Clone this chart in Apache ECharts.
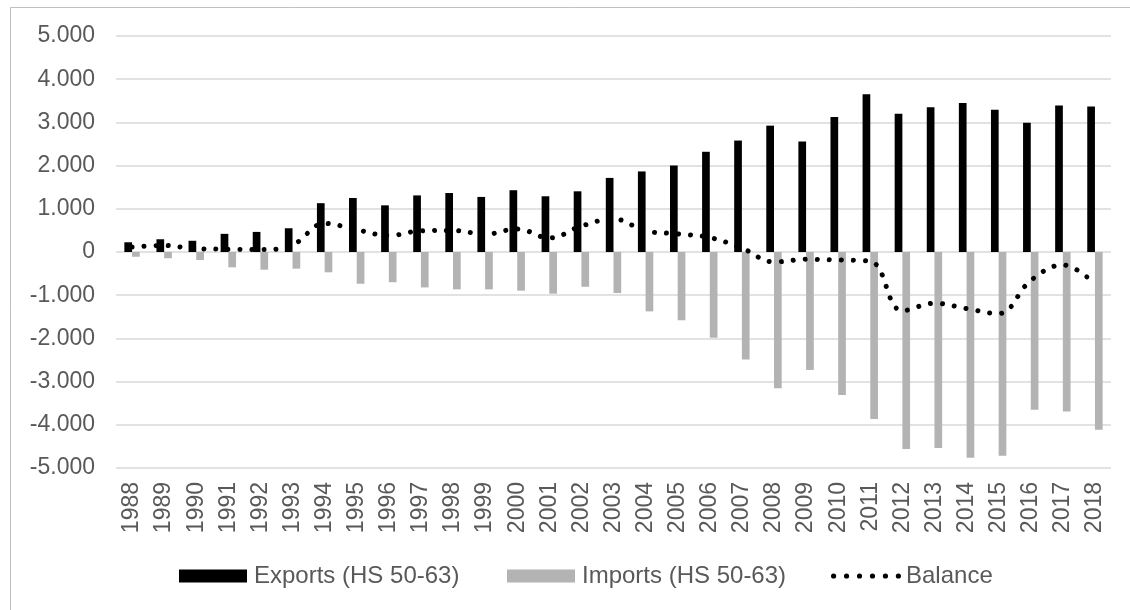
<!DOCTYPE html>
<html>
<head>
<meta charset="utf-8">
<script src="https://cdn.jsdelivr.net/npm/echarts@6/dist/echarts.min.js"></script>
<style>
html,body{margin:0;padding:0;background:#fff;}
#c{width:1130px;height:610px;}
</style>
</head>
<body>
<div id="c"></div>
<script>
var years = ['1988','1989','1990','1991','1992','1993','1994','1995','1996','1997','1998','1999','2000','2001','2002','2003','2004','2005','2006','2007','2008','2009','2010','2011','2012','2013','2014','2015','2016','2017','2018'];
var exportsHS = [225, 295, 260, 420, 465, 550, 1130, 1250, 1080, 1310, 1365, 1275, 1430, 1290, 1405, 1715, 1865, 2000, 2320, 2580, 2925, 2560, 3125, 3650, 3200, 3350, 3450, 3290, 2990, 3390, 3370];
var importsHS = [-110, -145, -185, -355, -410, -385, -470, -735, -700, -820, -865, -865, -895, -965, -805, -950, -1375, -1580, -1985, -2490, -3155, -2730, -3310, -3865, -4560, -4535, -4760, -4715, -3650, -3690, -4115];
var balance = [115, 150, 75, 65, 55, 165, 660, 515, 380, 490, 500, 410, 535, 325, 600, 765, 490, 420, 335, 90, -230, -170, -185, -215, -1360, -1185, -1310, -1425, -660, -300, -745];
var seriesNames = ['Exports (HS 50-63)', 'Imports (HS 50-63)', 'Balance'];

function fmt(v) {
  var neg = v < 0;
  var s = String(Math.abs(v));
  s = s.replace(/\B(?=(\d{3})+(?!\d))/g, '.');
  return (neg ? '-' : '') + s;
}

// dotted legend icon: six round dots inside a 70x13 box
function dotsIcon() {
  var r = 2.6, cy = 6.5, p = 'path://M0,0 L0.01,0 L0,0.01 Z M70,13 L69.99,13 L70,12.99 Z';
  for (var i = 0; i < 6; i++) {
    var cx = 2.6 + i * 12.96;
    p += ' M' + (cx - r) + ',' + cy + ' A' + r + ',' + r + ' 0 1,0 ' + (cx + r) + ',' + cy +
         ' A' + r + ',' + r + ' 0 1,0 ' + (cx - r) + ',' + cy + ' Z';
  }
  return p;
}

var FONT = "'Liberation Sans', Arial, sans-serif";
function mkLegend(left, name, icon, w, pad) {
  return {
    left: left, top: 559, itemWidth: w, itemHeight: 13, itemGap: 0,
    textStyle: {fontFamily: FONT, fontSize: 24, color: '#595959', padding: [0, 0, 0, pad]},
    data: [{name: name, icon: icon}]
  };
}

var chart = echarts.init(document.getElementById('c'), null, {renderer: 'canvas'});
chart.setOption({
  backgroundColor: '#ffffff',
  animation: false,
  textStyle: {fontFamily: FONT},
  graphic: [{
    type: 'rect',
    shape: {x: 10.5, y: 7.5, width: 1140, height: 640},
    style: {fill: 'none', stroke: '#c0c0c0', lineWidth: 1},
    silent: true,
    z: -10
  }],
  grid: {left: 116, right: 19, top: 36, bottom: 142, containLabel: false},
  legend: [
    mkLegend(174, seriesNames[0], 'rect', 68, 2),
    mkLegend(502, seriesNames[1], 'rect', 68, 2),
    mkLegend(826, seriesNames[2], dotsIcon(), 70, 0)
  ],
  xAxis: {
    type: 'category',
    data: years,
    axisLine: {show: false, onZero: false},
    axisTick: {show: false},
    axisLabel: {rotate: 90, fontSize: 23, color: '#595959', fontFamily: FONT, margin: 14, interval: 0}
  },
  yAxis: {
    type: 'value',
    min: -5000,
    max: 5000,
    interval: 1000,
    axisLine: {show: false},
    axisTick: {show: false},
    splitLine: {lineStyle: {color: '#d9d9d9', width: 1.5}},
    axisLabel: {fontSize: 23, color: '#595959', fontFamily: FONT, margin: 21, formatter: fmt}
  },
  series: [
    {
      name: seriesNames[0], type: 'bar', data: exportsHS,
      barWidth: 7.7, barGap: '0%',
      itemStyle: {color: '#000000'}
    },
    {
      name: seriesNames[1], type: 'bar', data: importsHS,
      barWidth: 7.7, barGap: '0%',
      itemStyle: {color: '#b3b3b3'}
    },
    {
      name: seriesNames[2], type: 'line', data: balance,
      smooth: 0.4, symbol: 'none', showSymbol: false, z: 5,
      lineStyle: {color: '#000000', width: 5, type: [0.01, 12], cap: 'round'},
      itemStyle: {color: '#000000'}
    }
  ]
});
</script>
</body>
</html>
